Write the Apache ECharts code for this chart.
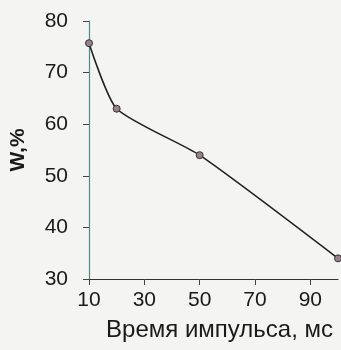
<!DOCTYPE html>
<html>
<head>
<meta charset="utf-8">
<script src="https://cdn.jsdelivr.net/npm/echarts@6/dist/echarts.min.js"></script>
<style>
html,body{margin:0;padding:0;background:#f4f4f2;}
#c{width:341px;height:350px;}
</style>
</head>
<body>
<div id="c"></div>
<script>
const pulseTimes = [10, 20, 50, 100];
const wValues = [75.7, 63, 54, 34];
const xAxisTitle = 'Время импульса, мс';
const yAxisTitle = 'W,%';

const chart = echarts.init(document.getElementById('c'));
const font = '"Liberation Sans", Arial, sans-serif';
chart.setOption({
  backgroundColor: '#f4f4f2',
  animation: false,
  grid: {left: 86, right: 3, top: 21, bottom: 71, containLabel: false},
  xAxis: {
    type: 'value', min: 10, max: 100, interval: 20,
    name: xAxisTitle, nameLocation: 'middle', nameGap: 39,
    nameTextStyle: {fontFamily: font, fontSize: 24, color: '#1a1a1a', padding: [0, 0, 0, 12]},
    axisLine: {lineStyle: {color: '#333', width: 1.2}},
    axisTick: {show: true, inside: false, length: 6, lineStyle: {color: '#444'}},
    axisLabel: {fontFamily: font, fontSize: 21, color: '#1a1a1a', margin: 11, showMaxLabel: false},
    splitLine: {show: false}
  },
  yAxis: {
    type: 'value', min: 30, max: 80, interval: 10,
    name: yAxisTitle, nameLocation: 'middle', nameGap: 60,
    nameTextStyle: {fontFamily: font, fontSize: 21, fontWeight: 'bold', color: '#1a1a1a'},
    axisLine: {show: true, lineStyle: {color: '#4f8a86', width: 1.2}},
    axisTick: {show: true, inside: false, length: 6, lineStyle: {color: '#444'}},
    axisLabel: {fontFamily: font, fontSize: 21, color: '#1a1a1a', margin: 21},
    splitLine: {show: false}
  },
  series: [{
    type: 'line',
    data: pulseTimes.map((x, i) => [x, wValues[i]]),
    smooth: 0.2,
    symbol: 'circle', symbolSize: 7,
    lineStyle: {color: '#222', width: 1.6},
    itemStyle: {color: '#9a7f8c', borderColor: '#333', borderWidth: 1}
  }]
});
</script>
</body>
</html>
